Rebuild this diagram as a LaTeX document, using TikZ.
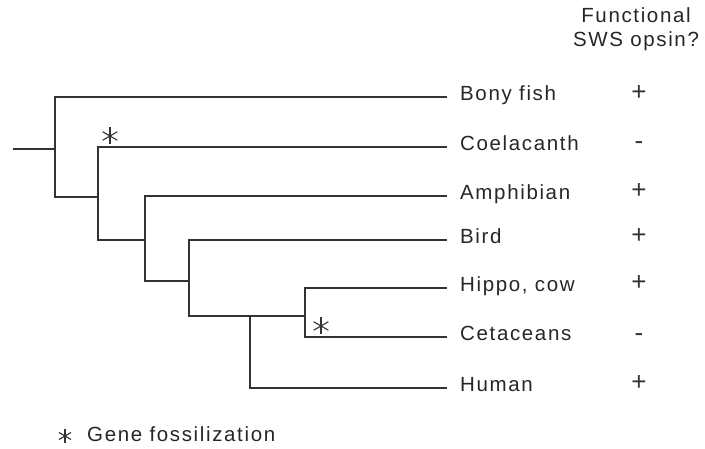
\documentclass[tikz,border=0pt]{standalone}
\usepackage{fontspec}
\setmainfont{Liberation Sans}[LetterSpace=8]
\usetikzlibrary{positioning}

\tikzset{
  branch/.style={draw=black!80, line width=1.3pt},
  taxon/.style={anchor=west, inner xsep=13pt, inner ysep=0pt, text height=14pt, text depth=6pt, text=black!85, font=\fontsize{20.5}{24}\selectfont},
  sign/.style={inner sep=0pt, text=black!80, font=\fontsize{26}{28}\selectfont},
  plus/.style={sign},
  fossil/.style={draw=black!80, line width=1.1pt},
}
\newcommand{\fossilstar}[2]{% centre, radius
  \draw[fossil] ($(#1)+(90:#2)$) -- ($(#1)+(270:#2)$);
  \draw[fossil] ($(#1)+(30:#2)$) -- ($(#1)+(210:#2)$);
  \draw[fossil] ($(#1)+(150:#2)$) -- ($(#1)+(330:#2)$);
}
\usetikzlibrary{calc}

\begin{document}
\begin{tikzpicture}[x=1pt, y=1pt]
  \useasboundingbox (0,0) rectangle (705,449);

  % header
  \node[align=center, text=black!85, font=\fontsize{20.5}{24}\selectfont] (head) at (636,420) {Functional\\SWS opsin?};

  % taxa
  \node[taxon] (bony)  at (447,352) {Bony fish};
  \node[taxon] (coel)  at (447,302) {Coelacanth};
  \node[taxon] (amph)  at (447,253) {Amphibian};
  \node[taxon] (bird)  at (447,209) {Bird};
  \node[taxon] (hippo) at (447,161) {Hippo, cow};
  \node[taxon] (ceta)  at (447,112) {Cetaceans};
  \node[taxon] (human) at (447,61)  {Human};

  % opsin column
  \node[plus] (sbony)  at (639,356) {+};
  \node[sign] (scoel)  at (639,303) {-};
  \node[plus] (samph)  at (639,258) {+};
  \node[plus] (sbird)  at (639,213) {+};
  \node[plus] (shippo) at (639,166) {+};
  \node[sign] (sceta)  at (639,111) {-};
  \node[plus] (shuman) at (639,66)  {+};

  % internal nodes
  \coordinate (root) at (13,300);
  \coordinate (n1) at (55,300);
  \coordinate (n2) at (98,252);
  \coordinate (n3) at (145,209);
  \coordinate (n4) at (189,168);
  \coordinate (n6) at (250,133);
  \coordinate (n5) at (305,133);

  % branches
  \draw[branch] (root) -- (n1);
  \draw[branch] (n1) |- (bony.west);
  \draw[branch] (n1) |- (n2);
  \draw[branch] (n2) |- (coel.west);
  \draw[branch] (n2) |- (n3);
  \draw[branch] (n3) |- (amph.west);
  \draw[branch] (n3) |- (n4);
  \draw[branch] (n4) |- (bird.west);
  \draw[branch] (n4) |- (n6) -- (n5);
  \draw[branch] (n6) |- (human.west);
  \draw[branch] (n5) |- (hippo.west);
  \draw[branch] (n5) |- (ceta.west);

  % gene fossilization marks
  \coordinate (f1) at (110,313);
  \coordinate (f2) at (321,123);
  \fossilstar{f1}{8.5}
  \fossilstar{f2}{8.5}

  % legend
  \coordinate (fkey) at (65,13);
  \fossilstar{fkey}{7}
  \node[anchor=base west, inner sep=0pt, text=black!85, font=\fontsize{20.5}{24}\selectfont] (legend) at (87,7) {Gene fossilization};
\end{tikzpicture}
\end{document}
